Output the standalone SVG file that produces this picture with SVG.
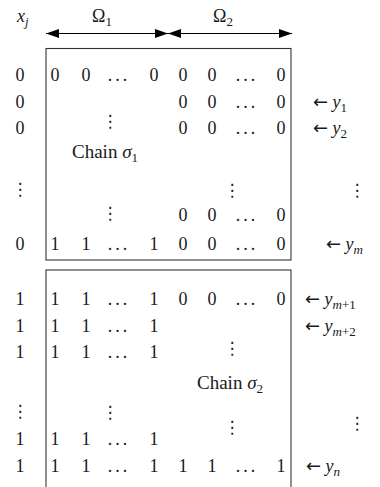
<svg xmlns="http://www.w3.org/2000/svg" width="380" height="487" viewBox="0 0 380 487" font-family="Liberation Serif, DejaVu Serif, serif">
<style>
text{font-family:"Liberation Serif","DejaVu Serif",serif;font-size:18px;fill:#1a1a1a}
.c{text-anchor:middle}
.i{font-style:italic}
.s{font-size:13px}
.el{letter-spacing:3px}
.ch{font-size:19px}
.la{font-family:"DejaVu Sans",sans-serif;font-size:18px}
.vd{font-family:"DejaVu Sans",sans-serif;font-size:17px;text-anchor:middle}
.box{fill:none;stroke:#333;stroke-width:1.1}
.ar{stroke:#000;stroke-width:1.2;fill:none}
</style>
<defs>
<marker id="ah" viewBox="0 0 13 9" refX="13" refY="4.5" markerWidth="13" markerHeight="9" orient="auto-start-reverse" markerUnits="userSpaceOnUse"><path d="M0,0 L13,4.5 L0,9 z" fill="#000"/></marker>
</defs>
<g id="header">
<text x="17" y="22" class="i">x<tspan class="s" dy="4">j</tspan></text>
<text x="92" y="22">Ω<tspan class="s" dy="4">1</tspan></text>
<text x="213" y="22">Ω<tspan class="s" dy="4">2</tspan></text>
</g>
<g id="connectors">
<line class="ar" x1="46" y1="33.5" x2="168" y2="33.5" marker-start="url(#ah)" marker-end="url(#ah)"/>
<line class="ar" x1="168" y1="33.5" x2="292" y2="33.5" marker-start="url(#ah)" marker-end="url(#ah)"/>
</g>
<g id="chain1">
<rect class="box" x="46" y="48.5" width="245" height="211.5"/>
<text class="c" x="20" y="81">0</text>
<text class="c" x="20" y="107.5">0</text>
<text class="c" x="20" y="134">0</text>
<text class="vd" x="20" y="195">⋮</text>
<text class="c" x="20" y="250">0</text>
<text class="c" x="55" y="81">0</text><text class="c" x="86" y="81">0</text><text class="c el" x="119" y="81">...</text><text class="c" x="154" y="81">0</text>
<text class="c" x="183" y="81">0</text><text class="c" x="212" y="81">0</text><text class="c el" x="247" y="81">...</text><text class="c" x="281" y="81">0</text>
<text class="c" x="183" y="107.5">0</text><text class="c" x="212" y="107.5">0</text><text class="c el" x="247" y="107.5">...</text><text class="c" x="281" y="107.5">0</text>
<text class="vd" x="110" y="127">⋮</text>
<text class="c" x="183" y="134">0</text><text class="c" x="212" y="134">0</text><text class="c el" x="247" y="134">...</text><text class="c" x="281" y="134">0</text>
<text class="ch" x="72" y="158">Chain <tspan class="i">σ</tspan><tspan class="s" dy="4">1</tspan></text>
<text class="vd" x="232" y="196">⋮</text>
<text class="vd" x="110" y="219">⋮</text>
<text class="c" x="183" y="221">0</text><text class="c" x="212" y="221">0</text><text class="c el" x="247" y="221">...</text><text class="c" x="281" y="221">0</text>
<text class="c" x="55" y="250">1</text><text class="c" x="86" y="250">1</text><text class="c el" x="119" y="250">...</text><text class="c" x="154" y="250">1</text>
<text class="c" x="183" y="250">0</text><text class="c" x="212" y="250">0</text><text class="c el" x="247" y="250">...</text><text class="c" x="281" y="250">0</text>
</g>
<g id="labels1">
<text x="313" y="107.5"><tspan class="la">←</tspan> <tspan class="i">y</tspan><tspan class="s" dy="4">1</tspan></text>
<text x="313" y="134"><tspan class="la">←</tspan> <tspan class="i">y</tspan><tspan class="s" dy="4">2</tspan></text>
<text class="vd" x="357" y="196">⋮</text>
<text x="326" y="250"><tspan class="la">←</tspan> <tspan class="i">y</tspan><tspan class="s i" dy="4">m</tspan></text>
</g>
<g id="chain2">
<rect class="box" x="46" y="270" width="245" height="230"/>
<text class="c" x="20" y="305">1</text>
<text class="c" x="20" y="331.5">1</text>
<text class="c" x="20" y="358">1</text>
<text class="vd" x="20" y="417">⋮</text>
<text class="c" x="20" y="444.5">1</text>
<text class="c" x="20" y="472">1</text>
<text class="c" x="55" y="305">1</text><text class="c" x="86" y="305">1</text><text class="c el" x="119" y="305">...</text><text class="c" x="154" y="305">1</text>
<text class="c" x="183" y="305">0</text><text class="c" x="212" y="305">0</text><text class="c el" x="247" y="305">...</text><text class="c" x="281" y="305">0</text>
<text class="c" x="55" y="331.5">1</text><text class="c" x="86" y="331.5">1</text><text class="c el" x="119" y="331.5">...</text><text class="c" x="154" y="331.5">1</text>
<text class="vd" x="232" y="354">⋮</text>
<text class="c" x="55" y="358">1</text><text class="c" x="86" y="358">1</text><text class="c el" x="119" y="358">...</text><text class="c" x="154" y="358">1</text>
<text class="ch" x="197" y="389">Chain <tspan class="i">σ</tspan><tspan class="s" dy="4">2</tspan></text>
<text class="vd" x="110" y="418">⋮</text>
<text class="vd" x="232" y="433">⋮</text>
<text class="c" x="55" y="444.5">1</text><text class="c" x="86" y="444.5">1</text><text class="c el" x="119" y="444.5">...</text><text class="c" x="154" y="444.5">1</text>
<text class="c" x="55" y="472">1</text><text class="c" x="86" y="472">1</text><text class="c el" x="119" y="472">...</text><text class="c" x="154" y="472">1</text>
<text class="c" x="183" y="472">1</text><text class="c" x="212" y="472">1</text><text class="c el" x="247" y="472">...</text><text class="c" x="281" y="472">1</text>
</g>
<g id="labels2">
<text x="305" y="305"><tspan class="la">←</tspan> <tspan class="i">y</tspan><tspan class="s i" dy="4">m</tspan><tspan class="s">+1</tspan></text>
<text x="305" y="331.5"><tspan class="la">←</tspan> <tspan class="i">y</tspan><tspan class="s i" dy="4">m</tspan><tspan class="s">+2</tspan></text>
<text class="vd" x="357" y="429">⋮</text>
<text x="306" y="472"><tspan class="la">←</tspan> <tspan class="i">y</tspan><tspan class="s i" dy="4">n</tspan></text>
</g>
</svg>
